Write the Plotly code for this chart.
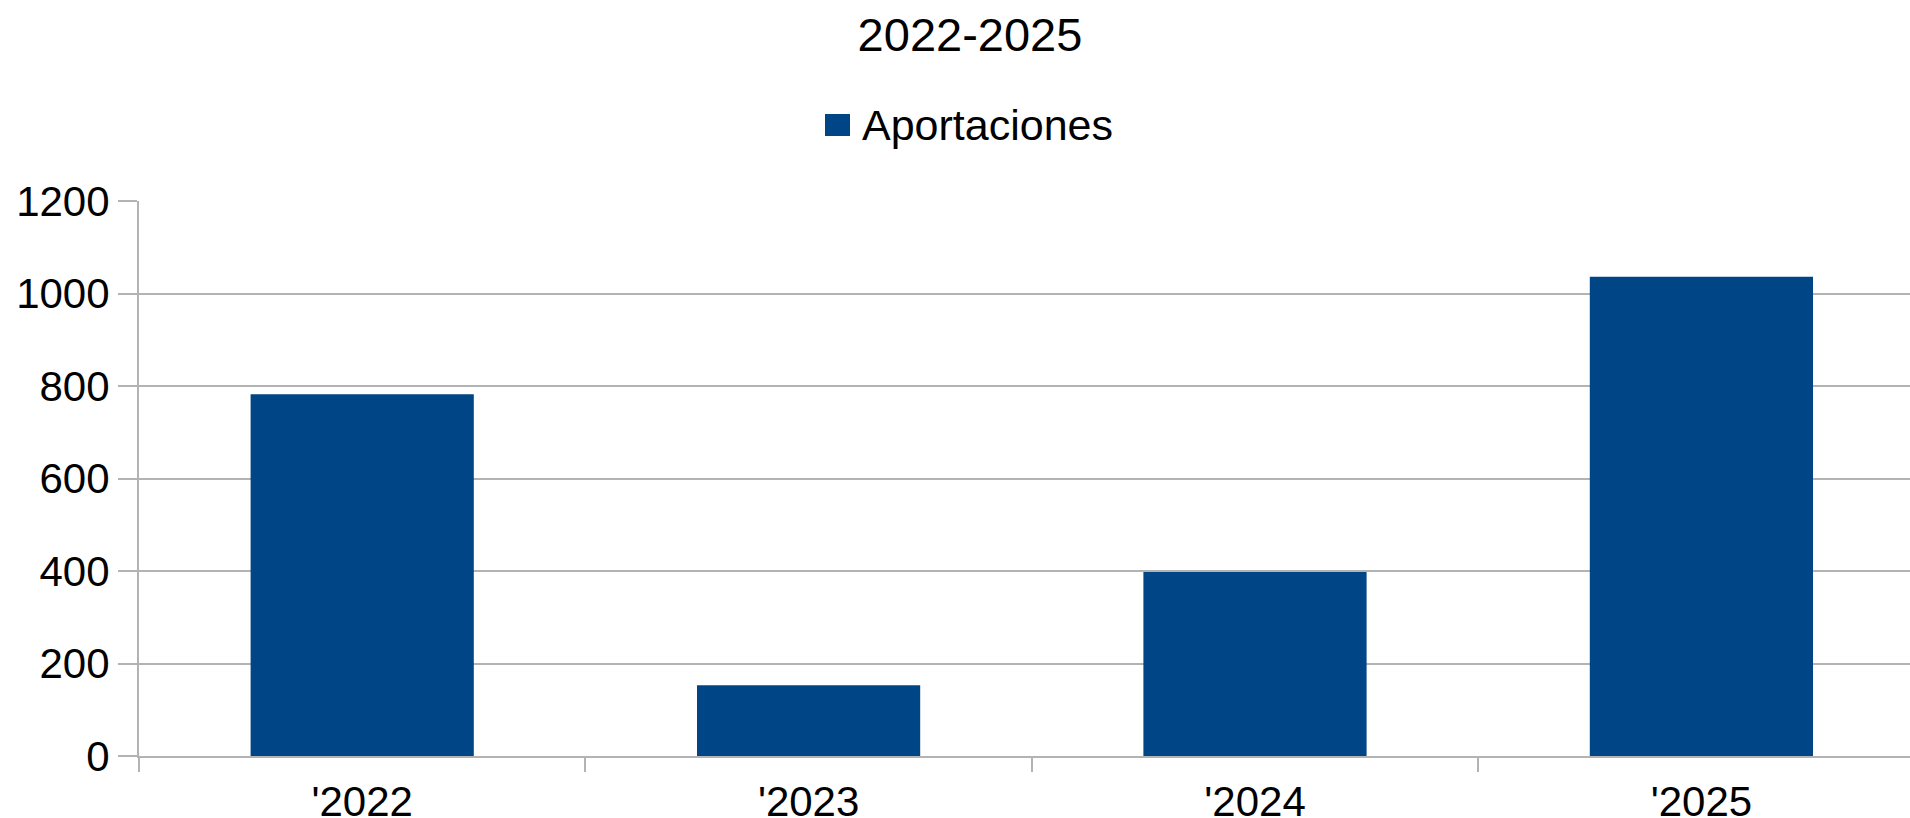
import plotly.graph_objects as go

categories = ["'2022", "'2023", "'2024", "'2025"]
aportaciones = [782, 153, 398, 1036]
y_ticks = [0, 200, 400, 600, 800, 1000, 1200]
series_name = "Aportaciones"
title_text = "2022-2025"

BAR = "#004586"
GRID = "#b3b3b3"
FONT = "Liberation Sans, Arial, sans-serif"

fig = go.Figure()
fig.add_trace(go.Bar(x=categories, y=aportaciones, name=series_name,
                     marker=dict(color=BAR, line=dict(width=0)),
                     showlegend=False))

W, H = 1910, 818
L, T, B = 139, 201, 62
CAT_PX = 446.4

fig.update_layout(
    width=W, height=H,
    margin=dict(l=L, r=0, t=T, b=B, pad=0, autoexpand=False),
    paper_bgcolor="white", plot_bgcolor="white",
    font=dict(family=FONT, size=42, color="#000000"),
    title=dict(text=title_text, x=970 / W, xref="container", xanchor="center",
               y=1 - 35 / H, yref="container", yanchor="middle",
               font=dict(size=47, family=FONT, color="#000000")),
    bargap=0.5,
    xaxis=dict(range=[-0.5, -0.5 + (W - L) / CAT_PX], showgrid=False,
               showline=True, linecolor=GRID, linewidth=2,
               ticks="outside", tickson="boundaries", ticklen=14,
               tickcolor=GRID, tickwidth=2, ticklabelstandoff=8,
               fixedrange=True, automargin=False),
    yaxis=dict(range=[0, 1200], tickvals=y_ticks, showgrid=True,
               gridcolor=GRID, gridwidth=2, showline=True, linecolor=GRID,
               linewidth=2, ticks="outside", ticklen=19, tickcolor=GRID,
               tickwidth=2, zeroline=False, ticklabelstandoff=0,
               fixedrange=True, automargin=False),
)

# legend (drawn as decoration)
PH = H - T - B
PW = W - L
fig.add_shape(type="rect", xref="paper", yref="paper",
              x0=(825 - L) / PW, x1=(850 - L) / PW,
              y0=1 + (T - 136) / PH, y1=1 + (T - 114) / PH,
              fillcolor=BAR, line=dict(width=0))
fig.add_annotation(text=series_name, xref="paper", yref="paper",
                   x=(860 - L) / PW, y=1 + (T - 125) / PH,
                   xanchor="left", yanchor="middle", showarrow=False,
                   font=dict(size=43, family=FONT, color="#000000"))

fig.write_html("out.html",
               config={"displayModeBar": False},
               post_script="document.body.style.margin='0px';"
                           "document.body.style.overflow='hidden';")
